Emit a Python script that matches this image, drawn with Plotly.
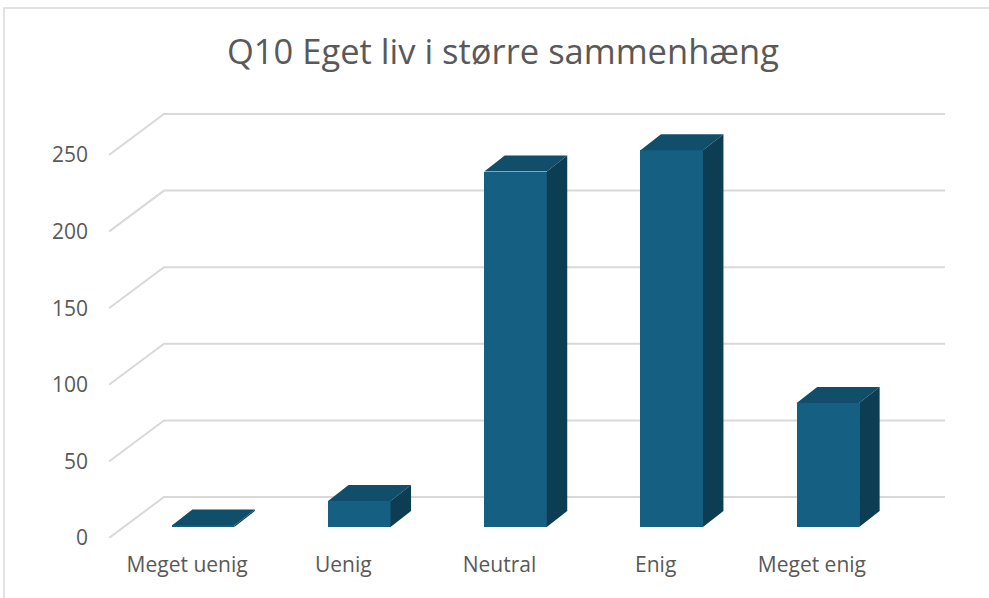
import plotly.graph_objects as go

categories = ["Meget uenig", "Uenig", "Neutral", "Enig", "Meget enig"]
counts = [1, 17, 232, 246, 81]
y_ticks = [0, 50, 100, 150, 200, 250]

TITLE = "Q10 Eget liv i større sammenhæng"
FRONT = "#156082"
TOP = "#114e6a"
SIDE = "#0d3d53"
GRID = "#d9d9d9"
TXT = "#595959"
FONT = "Open Sans"

# geometry (oblique 3D projection done in data units)
W, H = 989, 598
L, R, T, B = 109, 44, 113, 60
PX_X = 156.2            # pixels per category
PX_Y = 1.532            # pixels per count unit
DEPTH_X = 55 / PX_X     # floor depth in x units
DEPTH_Y = 41 / PX_Y     # floor depth in y units
n = len(categories)
xr = [-0.5, -0.5 + (W - L - R) / PX_X]
yr = [0, (H - T - B) / PX_Y]

BAR_W = 0.40
OFF_X = 16 / PX_X
OFF_Y = 11 / PX_Y
BD_X = 20.5 / PX_X
BD_Y = 16 / PX_Y

fig = go.Figure()

shapes = []
# back wall gridlines with left-wall diagonals
for v in y_ticks:
    x0 = -0.5
    x1 = -0.5 + DEPTH_X
    x2 = n - 0.5 + DEPTH_X
    shapes.append(dict(type="path", xref="x", yref="y", layer="below",
                       path=f"M {x0},{v} L {x1},{v + DEPTH_Y} L {x2},{v + DEPTH_Y}",
                       line=dict(color=GRID, width=2)))

# front bars
xs = [i + OFF_X for i in range(n)]
fig.add_trace(go.Bar(x=xs, y=counts, base=[OFF_Y] * n, width=BAR_W,
                     marker=dict(color=FRONT, line=dict(width=0)),
                     hoverinfo="skip", showlegend=False))

# top and side faces
for i, v in enumerate(counts):
    xl = xs[i] - BAR_W / 2
    xrr = xs[i] + BAR_W / 2
    yb = OFF_Y
    yt = OFF_Y + v
    shapes.append(dict(type="path", xref="x", yref="y", layer="above",
                       path=(f"M {xl},{yt} L {xrr},{yt} L {xrr + BD_X},{yt + BD_Y} "
                             f"L {xl + BD_X},{yt + BD_Y} Z"),
                       fillcolor=TOP, line=dict(width=0)))
    shapes.append(dict(type="path", xref="x", yref="y", layer="above",
                       path=(f"M {xrr},{yb} L {xrr},{yt} L {xrr + BD_X},{yt + BD_Y} "
                             f"L {xrr + BD_X},{yb + BD_Y} Z"),
                       fillcolor=SIDE, line=dict(width=0)))

# chart border (left and top visible)
pw, ph = W - L - R, H - T - B
shapes.append(dict(type="path", xref="paper", yref="paper", layer="below",
                   path=(f"M {(4 - L) / pw},{(H - B - 600) / ph} "
                         f"L {(4 - L) / pw},{(H - B - 8) / ph} "
                         f"L {(995 - L) / pw},{(H - B - 8) / ph}"),
                   line=dict(color=GRID, width=1.5)))

fig.update_layout(
    width=W, height=H,
    margin=dict(l=L, r=R, t=T, b=B, autoexpand=False),
    paper_bgcolor="white", plot_bgcolor="white",
    title=dict(text=TITLE, x=503 / W, xanchor="center", y=1 - 52 / H,
               yanchor="middle", yref="container",
               font=dict(family=FONT, size=34.5, color=TXT)),
    font=dict(family=FONT, color=TXT),
    shapes=shapes,
    xaxis=dict(range=xr, tickmode="array", tickvals=list(range(n)),
               ticktext=categories, showgrid=False, zeroline=False,
               showline=False, ticks="", tickfont=dict(size=21, color=TXT),
               ticklabelstandoff=12, fixedrange=True),
    yaxis=dict(range=yr, tickmode="array", tickvals=y_ticks,
               ticktext=[str(t) for t in y_ticks], showgrid=False,
               zeroline=False, showline=False, ticks="",
               tickfont=dict(size=21, color=TXT), ticklabelstandoff=20,
               fixedrange=True),
    bargap=0,
)

fig.write_html("out.html",
               config={"displayModeBar": False},
               post_script="document.body.style.margin='0';"
                           "document.body.style.overflow='hidden';")
